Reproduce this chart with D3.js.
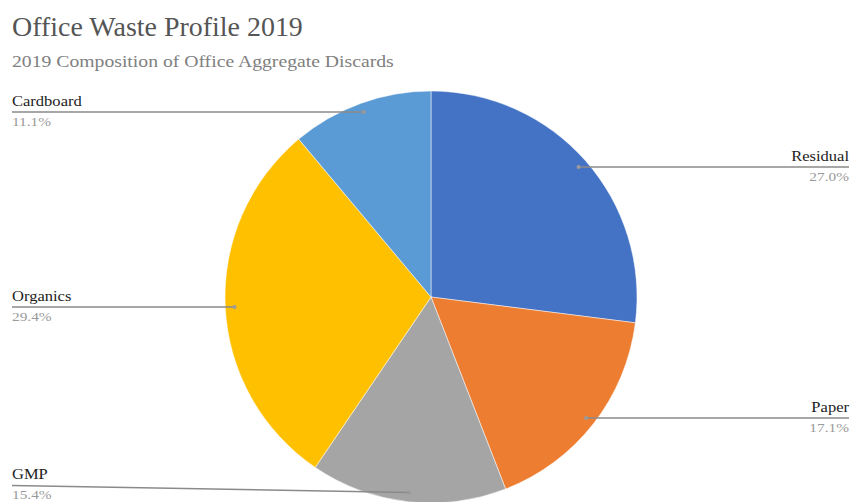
<!DOCTYPE html>
<html>
<head>
<meta charset="utf-8">
<script src="https://cdn.jsdelivr.net/npm/d3@7"></script>
<style>
  html, body { margin: 0; padding: 0; background: #fff; }
  svg { display: block; }
  text { font-family: "Liberation Serif", "Times New Roman", serif; }
</style>
</head>
<body>
<svg id="chart" width="853" height="502"></svg>
<script>
// Waste categories, in clockwise order from 12 o'clock
const categories = ["Residual", "Paper", "GMP", "Organics", "Cardboard"];
const shares = [27.0, 17.1, 15.4, 29.4, 11.1];
const colors = ["#4472c4", "#ed7d31", "#a5a5a5", "#ffc000", "#5b9bd5"];
// Which side each callout sits on
const sides = ["right", "right", "left", "left", "left"];

const title = "Office Waste Profile 2019";
const subtitle = "2019 Composition of Office Aggregate Discards";

const width = 853, height = 502;
const cx = 431, cy = 297, radius = 206;

const svg = d3.select("#chart");

// Widen a text run horizontally by a factor, keeping its glyph height
function stretch(sel, factor) {
  sel.each(function () {
    const w = this.getComputedTextLength();
    d3.select(this).attr("textLength", w * factor).attr("lengthAdjust", "spacingAndGlyphs");
  });
  return sel;
}

stretch(svg.append("text")
  .attr("x", 12).attr("y", 36)
  .attr("font-size", 27)
  .attr("fill", "#555")
  .text(title), 1.035);

stretch(svg.append("text")
  .attr("x", 12).attr("y", 67)
  .attr("font-size", 16)
  .attr("fill", "#808080")
  .text(subtitle), 1.23);

const data = categories.map((c, i) => ({ name: c, value: shares[i], color: colors[i], side: sides[i] }));

const pie = d3.pie().sort(null).value(d => d.value);
const arcs = pie(data);
const arc = d3.arc().innerRadius(0).outerRadius(radius);
const dotArc = d3.arc().innerRadius(radius * 0.955).outerRadius(radius * 0.955);

const g = svg.append("g").attr("transform", `translate(${cx},${cy})`);

g.selectAll("path.slice")
  .data(arcs)
  .join("path")
  .attr("class", "slice")
  .attr("d", arc)
  .attr("fill", d => d.data.color)
  .attr("stroke", "#fff")
  .attr("stroke-width", 0.5);

// Callouts: a leader line from the slice out to the chart edge, with name above and share below
const callouts = svg.append("g");
const leftX = 12, rightX = 849;

arcs.forEach(a => {
  const [dx, dy] = dotArc.centroid(a);
  const px = cx + dx, py = cy + dy;
  // GMP sits near the bottom edge, so its label row is lifted a little
  const ly = a.data.name === "GMP" ? py - 7 : py;
  const ex = a.data.side === "right" ? rightX : leftX;

  callouts.append("path")
    .attr("d", d3.line()([[px, py], [ex, ly]]))
    .attr("fill", "none")
    .attr("stroke", "#8a8a8a")
    .attr("stroke-width", 1.5);

  callouts.append("circle")
    .attr("cx", px).attr("cy", py).attr("r", 2)
    .attr("fill", "#9a9a9a");

  const anchor = a.data.side === "right" ? "end" : "start";
  const name = callouts.append("text")
    .attr("x", ex).attr("y", ly - 6)
    .attr("text-anchor", anchor)
    .attr("font-size", 14)
    .attr("fill", "#222")
    .text(a.data.name);
  stretch(name, 1.18);
  const val = callouts.append("text")
    .attr("x", ex).attr("y", ly + 14)
    .attr("text-anchor", anchor)
    .attr("font-size", 13)
    .attr("fill", "#9a9a9a")
    .text(d3.format(".1f")(a.data.value) + "%");
  stretch(val, 1.18);
});
</script>
</body>
</html>
